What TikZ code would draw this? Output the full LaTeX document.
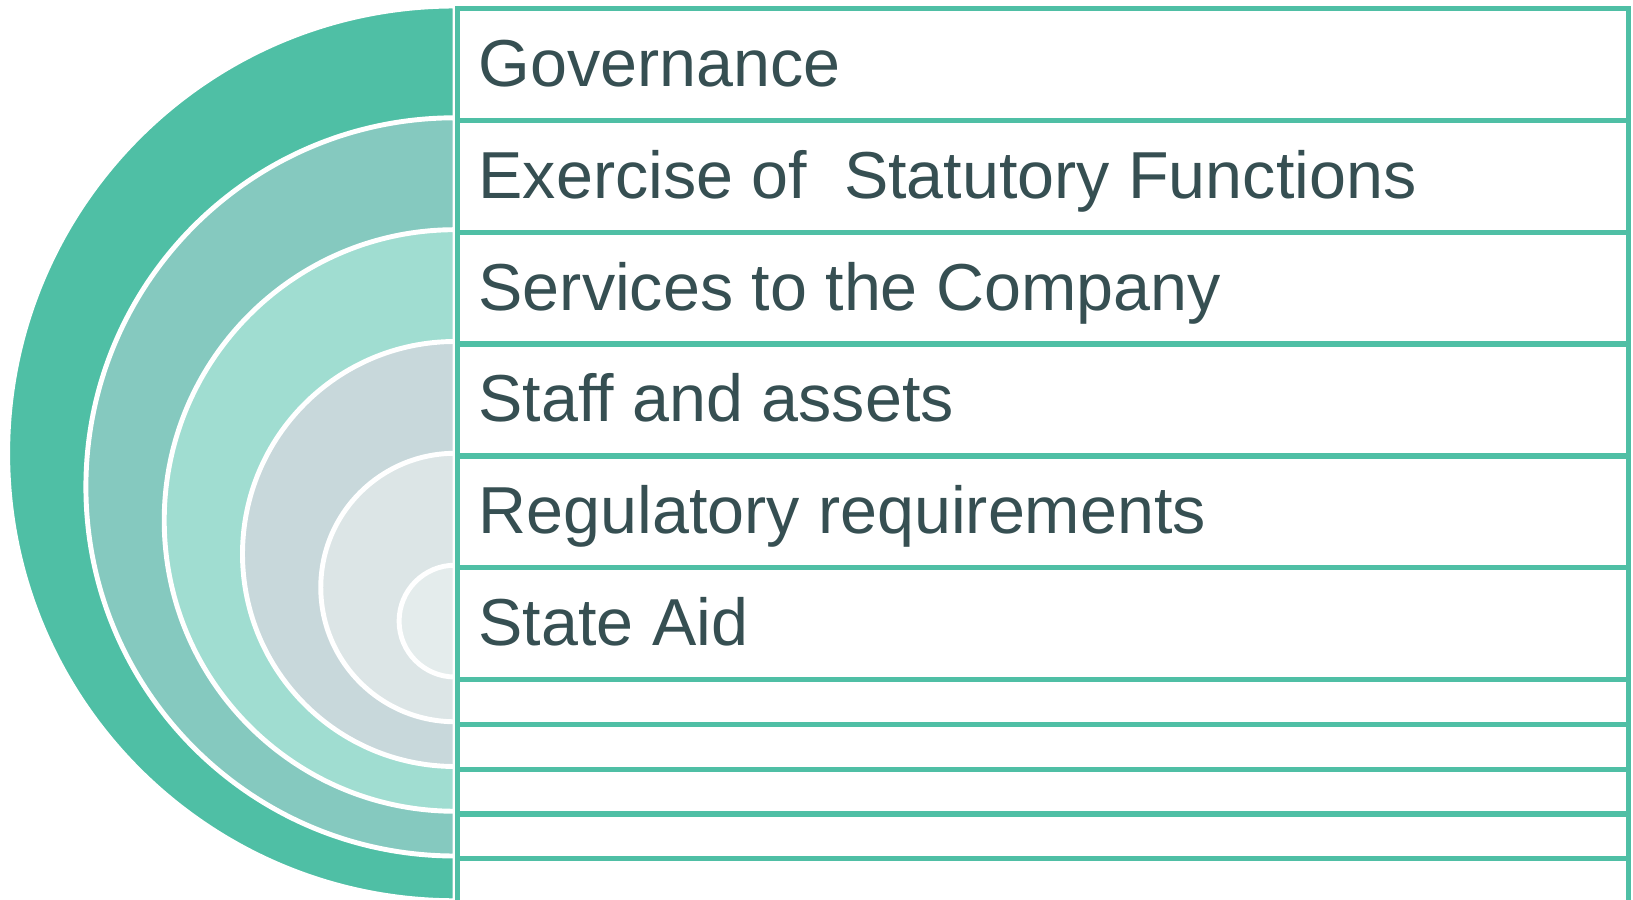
\documentclass[tikz,border=0pt]{standalone}
\usepackage{fontspec}
\setmainfont{Liberation Sans}
\usepackage{xcolor}
\definecolor{ringA}{HTML}{4FBFA5}
\definecolor{ringB}{HTML}{85C9BF}
\definecolor{ringC}{HTML}{A0DDD1}
\definecolor{ringD}{HTML}{C8D8DB}
\definecolor{ringE}{HTML}{DCE5E6}
\definecolor{ringF}{HTML}{E4ECEC}
\definecolor{lineteal}{HTML}{4FBFA5}
\definecolor{textslate}{HTML}{364F52}

\begin{document}
\begin{tikzpicture}[
    ring/.style={draw=white, line width=2.8pt},
    rowbox/.style={rectangle, draw=lineteal, line width=3pt, fill=white, anchor=north west, minimum width=23.42cm, inner sep=0pt},
    textrow/.style={rowbox, minimum height=2.237cm, text=textslate, font=\fontsize{37.8}{45}\selectfont, align=left, text width=22.58cm, inner xsep=0.42cm, text height=27.1pt, text depth=2.3pt, execute at begin node={\spaceskip=0pt\relax}},
    blankrow/.style={rowbox, minimum height=0.895cm}]
    \useasboundingbox (0,0) rectangle (32.66,17.98);

    % Half rings
    \filldraw [ring, fill=ringA] (9.10,17.86) arc (90:270:8.9475) -- cycle;
    \filldraw [ring, fill=ringB] (9.10,15.624) arc (90:270:7.382) -- cycle;
    \filldraw [ring, fill=ringC] (9.10,13.386) arc (90:270:5.8155) -- cycle;
    \filldraw [ring, fill=ringD] (9.10,11.15) arc (90:270:4.25) -- cycle;
    \filldraw [ring, fill=ringE] (9.10,8.914) arc (90:270:2.6845) -- cycle;
    \filldraw [ring, fill=ringF] (9.10,6.676) arc (90:270:1.118) -- cycle;

    % Rows with labels
    \node [textrow] (gov) at (9.10,17.86) {Governance};
    \node [textrow] (statfun) at (9.10,15.624) {Exercise of\ \ Statutory Functions};
    \node [textrow] (services) at (9.10,13.386) {Services to the Company};
    \node [textrow] (staff) at (9.10,11.15) {Staff and assets};
    \node [textrow] (regreq) at (9.10,8.914) {Regulatory requirements};
    \node [textrow] (stateaid) at (9.10,6.676) {State Aid};

    % Empty rows
    \node [blankrow] (blankA) at (9.10,4.44) {};
    \node [blankrow] (blankB) at (9.10,3.545) {};
    \node [blankrow] (blankC) at (9.10,2.65) {};
    \node [blankrow] (blankD) at (9.10,1.755) {};
    \node [blankrow] (blankE) at (9.10,0.86) {};
\end{tikzpicture}
\end{document}
